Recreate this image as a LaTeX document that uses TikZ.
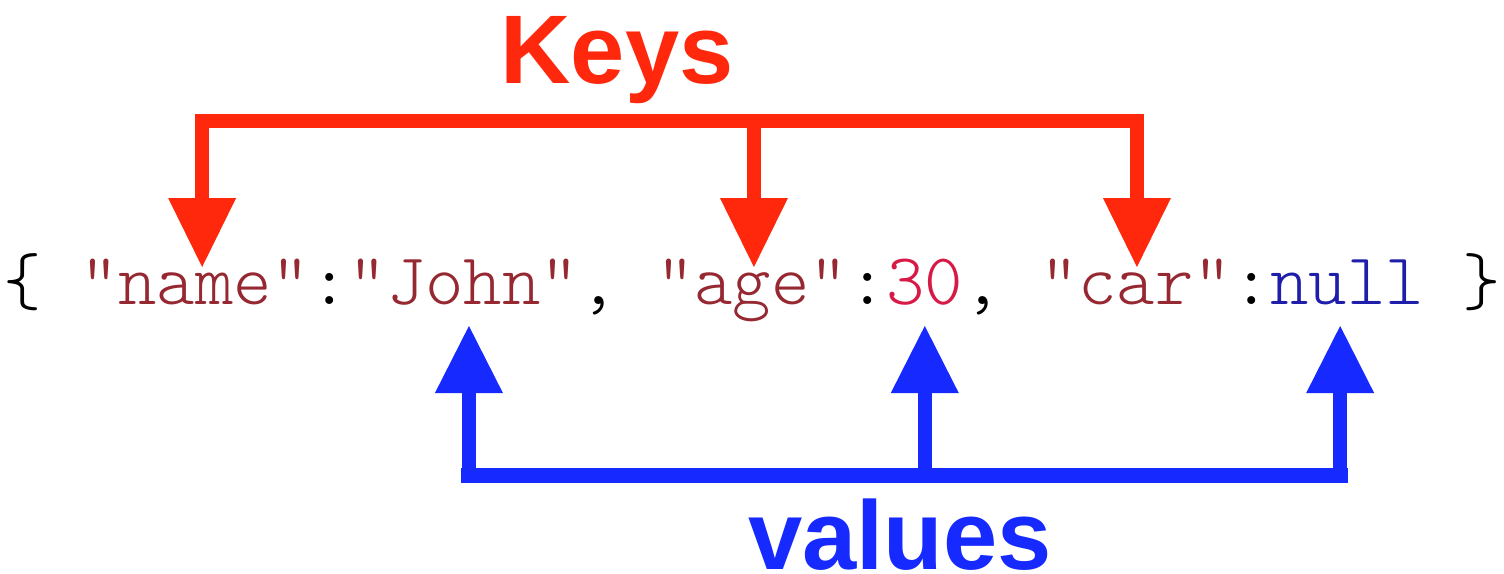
\documentclass[tikz,border=0pt]{standalone}
\usepackage{fontspec}
\setmainfont{Liberation Sans}
\newfontfamily\codefont{lmmonolt10-regular.otf}
\usetikzlibrary{arrows.meta}
\definecolor{keyred}{RGB}{255,40,12}
\definecolor{valblue}{RGB}{22,42,255}
\definecolor{strbrown}{RGB}{150,40,50}
\definecolor{numred}{RGB}{215,25,70}
\definecolor{nullblue}{RGB}{30,30,170}
\begin{document}
\begin{tikzpicture}[x=1pt,y=-1pt,
  code/.style={font=\fontsize{73.1}{80}\selectfont\codefont, inner sep=0pt, anchor=base west},
  str/.style={code, text=strbrown},
  punct/.style={code, text=black},
  biglabel/.style={font=\fontsize{97.5}{100}\selectfont\bfseries, inner sep=0pt, anchor=base},
  keyline/.style={draw=keyred, line width=14pt},
  keyarrow/.style={keyline, -{Triangle[width=68pt,length=69pt,line width=0pt]}},
  valline/.style={draw=valblue, line width=14pt},
  valarrow/.style={valline, -{Triangle[width=68pt,length=67pt,line width=0pt]}}
]
\useasboundingbox (0,0) rectangle (1504,573);

% code line, monospace cells of 38.4 units starting at x=3
\node[punct] (lbrace) at ({3+0*38.4},304) {\{};
\node[str]   (kname)  at ({3+2*38.4},304) {"name"};
\node[punct] (col1)   at ({3+8*38.4},304) {:};
\node[str]   (vjohn)  at ({3+9*38.4},304) {"John"};
\node[punct] (com1)   at ({3+15*38.4},304) {,};
\node[str]   (kage)   at ({3+17*38.4},304) {"age"};
\node[punct] (col2)   at ({3+22*38.4},304) {:};
\node[code, text=numred] (v30) at ({3+23*38.4},304) {30};
\node[punct] (com2)   at ({3+25*38.4},304) {,};
\node[str]   (kcar)   at ({3+27*38.4},304) {"car"};
\node[punct] (col3)   at ({3+32*38.4},304) {:};
\node[code, text=nullblue] (vnull) at ({3+33*38.4},304) {null};
\node[punct] (rbrace) at ({3+38*38.4},304) {\}};

% labels
\node[biglabel, text=keyred] (keys) at (617,83) {Keys};
\node[biglabel, text=valblue] (values) at (900,569) {values};

% key connectors
\coordinate (kbus) at (0,121);
\coordinate (ktip) at (0,267);
\coordinate (kA) at ([xshift=7pt]kname.north);
\coordinate (kB) at ([xshift=2pt]kage.north);
\coordinate (kC) at ([xshift=1pt]kcar.north);
\draw[keyline, line cap=rect] (kA |- kbus) -- (kC |- kbus);
\draw[keyarrow] (kA |- kbus) -- (kA |- ktip);
\draw[keyarrow] (kB |- kbus) -- (kB |- ktip);
\draw[keyarrow] (kC |- kbus) -- (kC |- ktip);

% value connectors
\coordinate (vbus) at (0,475);
\coordinate (vtip) at (0,326);
\coordinate (vA) at ([xshift=5pt]vjohn.south);
\coordinate (vB) at (v30.south);
\coordinate (vC) at ([xshift=-7pt]vnull.south);
\draw[valline, line width=15pt, line cap=rect] (vA |- vbus) -- (vC |- vbus);
\draw[valarrow] (vA |- vbus) -- (vA |- vtip);
\draw[valarrow] (vB |- vbus) -- (vB |- vtip);
\draw[valarrow] (vC |- vbus) -- (vC |- vtip);
\end{tikzpicture}
\end{document}
